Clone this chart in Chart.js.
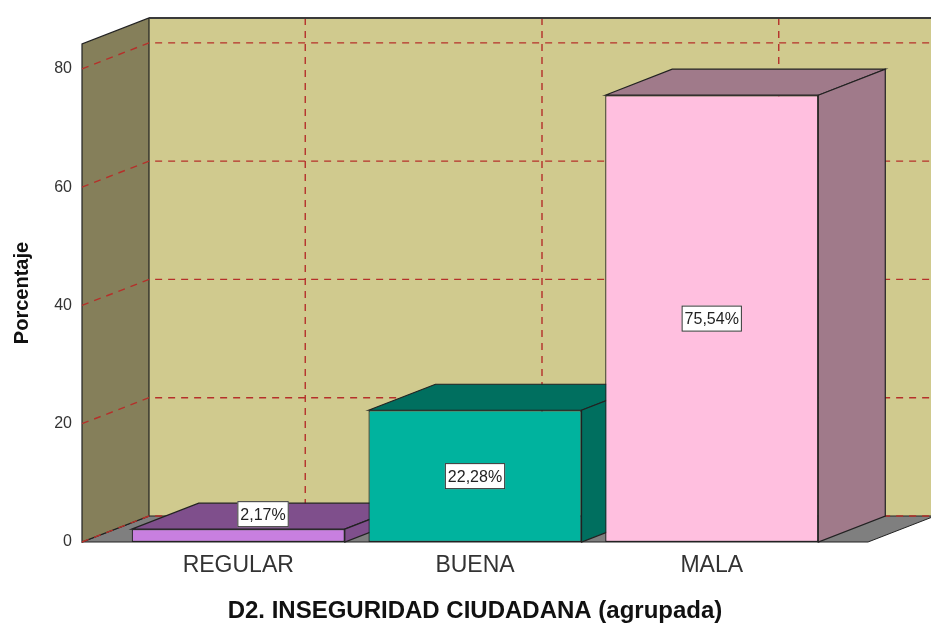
<!DOCTYPE html>
<html>
<head>
<meta charset="utf-8">
<script src="https://cdn.jsdelivr.net/npm/chart.js@4.4.1/dist/chart.umd.min.js"></script>
<style>
  body { margin: 0; background: #fff; }
  #wrap { width: 931px; height: 623px; position: relative; }
</style>
</head>
<body>
<div id="wrap"><canvas id="canvas-bars"></canvas></div>
<script>
// data
const categories = ['REGULAR', 'BUENA', 'MALA'];
const percents = [2.17, 22.28, 75.54];
const valueLabels = ['2,17%', '22,28%', '75,54%'];
const yTicks = [0, 20, 40, 60, 80];

// styling
const frontColors = ['#c87fe0', '#00b39e', '#ffbfdf'];
const shadeColors = ['#7f4f8c', '#006f5f', '#a07a8a'];
const depthX = 67;
const depthY = -26;
const gridRed = '#b5302a';
const fontFamily = "'Liberation Sans', Arial, sans-serif";

const wallsPlugin = {
  id: 'walls',
  beforeDatasetsDraw(chart) {
    const ctx = chart.ctx;
    const area = chart.chartArea;
    const y = chart.scales.y;
    const x = chart.scales.x;
    const L = area.left, R = area.right, T = area.top, B = area.bottom;

    ctx.save();
    ctx.lineJoin = 'miter';
    // back wall
    ctx.fillStyle = '#d0ca8e';
    ctx.fillRect(L + depthX, T + depthY, R - L + 10, B - T);
    // floor
    ctx.beginPath();
    ctx.moveTo(L, B);
    ctx.lineTo(R, B);
    ctx.lineTo(R + depthX, B + depthY);
    ctx.lineTo(L + depthX, B + depthY);
    ctx.closePath();
    ctx.fillStyle = '#7f7f7f';
    ctx.fill();
    ctx.strokeStyle = '#222';
    ctx.lineWidth = 1;
    ctx.stroke();
    // side wall
    ctx.beginPath();
    ctx.moveTo(L, B);
    ctx.lineTo(L, T);
    ctx.lineTo(L + depthX, T + depthY);
    ctx.lineTo(L + depthX, B + depthY);
    ctx.closePath();
    ctx.fillStyle = '#857f5a';
    ctx.fill();
    ctx.strokeStyle = '#222';
    ctx.lineWidth = 1.2;
    ctx.stroke();

    // gridlines
    ctx.setLineDash([7, 6]);
    ctx.strokeStyle = gridRed;
    ctx.lineWidth = 1.4;
    yTicks.forEach(v => {
      const py = y.getPixelForValue(v);
      ctx.beginPath();
      ctx.moveTo(L, py);
      ctx.lineTo(L + depthX, py + depthY);
      ctx.lineTo(chart.width + 5, py + depthY);
      ctx.stroke();
    });
    categories.forEach((c, i) => {
      const px = x.getPixelForValue(i + 1) + depthX;
      ctx.beginPath();
      ctx.moveTo(px, T + depthY);
      ctx.lineTo(px, B + depthY);
      ctx.stroke();
    });
    ctx.setLineDash([]);

    // top edge of back wall
    ctx.strokeStyle = '#3a3a3a';
    ctx.lineWidth = 2;
    ctx.beginPath();
    ctx.moveTo(L + depthX, T + depthY);
    ctx.lineTo(chart.width + 5, T + depthY);
    ctx.stroke();

    // bar tops and sides
    const meta = chart.getDatasetMeta(0);
    meta.data.forEach((bar, i) => {
      const p = bar.getProps(['x', 'y', 'base', 'width'], true);
      const l = p.x - p.width / 2, r = p.x + p.width / 2;
      ctx.fillStyle = shadeColors[i];
      ctx.strokeStyle = '#222';
      ctx.lineWidth = 1.2;
      // top
      ctx.beginPath();
      ctx.moveTo(l, p.y);
      ctx.lineTo(l + depthX, p.y + depthY);
      ctx.lineTo(r + depthX, p.y + depthY);
      ctx.lineTo(r, p.y);
      ctx.closePath();
      ctx.fill();
      ctx.stroke();
      // side
      ctx.beginPath();
      ctx.moveTo(r, p.y);
      ctx.lineTo(r + depthX, p.y + depthY);
      ctx.lineTo(r + depthX, p.base + depthY);
      ctx.lineTo(r, p.base);
      ctx.closePath();
      ctx.fill();
      ctx.stroke();
    });
    ctx.restore();
  },
  afterDatasetsDraw(chart) {
    const ctx = chart.ctx;
    const meta = chart.getDatasetMeta(0);
    ctx.save();
    ctx.font = '16px ' + fontFamily;
    ctx.textAlign = 'center';
    ctx.textBaseline = 'middle';
    meta.data.forEach((bar, i) => {
      const p = bar.getProps(['x', 'y', 'base', 'width'], true);
      const text = valueLabels[i];
      const w = ctx.measureText(text).width + 6;
      const h = 26;
      let cx = p.x, cy = (p.y + p.base) / 2;
      if (p.base - p.y < h) {
        cx = p.x + depthX * 0.37;
        cy = p.y + depthY / 2 - 2;
      }
      ctx.fillStyle = '#fff';
      ctx.fillRect(cx - w / 2, cy - h / 2, w, h);
      ctx.strokeStyle = '#333';
      ctx.lineWidth = 1;
      ctx.strokeRect(cx - w / 2 + 0.5, cy - h / 2 + 0.5, w - 1, h - 1);
      ctx.fillStyle = '#222';
      ctx.fillText(text, cx, cy + 1);
    });
    ctx.restore();
  }
};

new Chart(document.getElementById('canvas-bars').getContext('2d'), {
  type: 'bar',
  data: {
    datasets: [
      {
        label: 'Porcentaje',
        data: percents.map((v, i) => ({ x: i + 1, y: v })),
        backgroundColor: frontColors,
        borderColor: '#222',
        borderWidth: 1.2,
        borderSkipped: false,
        barPercentage: 0.9,
        categoryPercentage: 1.0,
      },
    ],
  },
  options: {
    responsive: true,
    maintainAspectRatio: false,
    animation: false,
    events: [],
    layout: {
      padding: { top: 44, right: 63, left: 0, bottom: 0 },
    },
    plugins: {
      legend: { display: false },
      tooltip: { enabled: false },
    },
    scales: {
      x: {
        type: 'linear',
        min: 0.34,
        max: 3.66,
        offset: false,
        afterFit(scale) { scale.height = 81; },
        grid: { display: false, drawTicks: false, offset: false },
        border: { display: false },
        ticks: {
          stepSize: 1,
          includeBounds: false,
          autoSkip: false,
          maxRotation: 0,
          padding: 10,
          color: '#333',
          font: { family: fontFamily, size: 23 },
          callback: v => (Number.isInteger(v) ? categories[v - 1] : ''),
        },
        title: {
          display: true,
          text: 'D2. INSEGURIDAD CIUDADANA (agrupada)',
          color: '#111',
          font: { family: fontFamily, size: 24, weight: 'bold', lineHeight: 1 },
          padding: { top: 0, bottom: 0 },
        },
      },
      y: {
        min: 0,
        max: 84.2,
        afterFit(scale) { scale.width = 82; },
        grid: { display: false, drawTicks: false },
        border: { display: false },
        ticks: {
          stepSize: 20,
          includeBounds: false,
          padding: 10,
          color: '#333',
          font: { family: fontFamily, size: 16 },
        },
        title: {
          display: true,
          text: 'Porcentaje',
          color: '#111',
          font: { family: fontFamily, size: 20, weight: 'bold', lineHeight: 1 },
          padding: { top: 12, bottom: 0 },
        },
      },
    },
  },
  plugins: [wallsPlugin],
});
</script>
</body>
</html>
